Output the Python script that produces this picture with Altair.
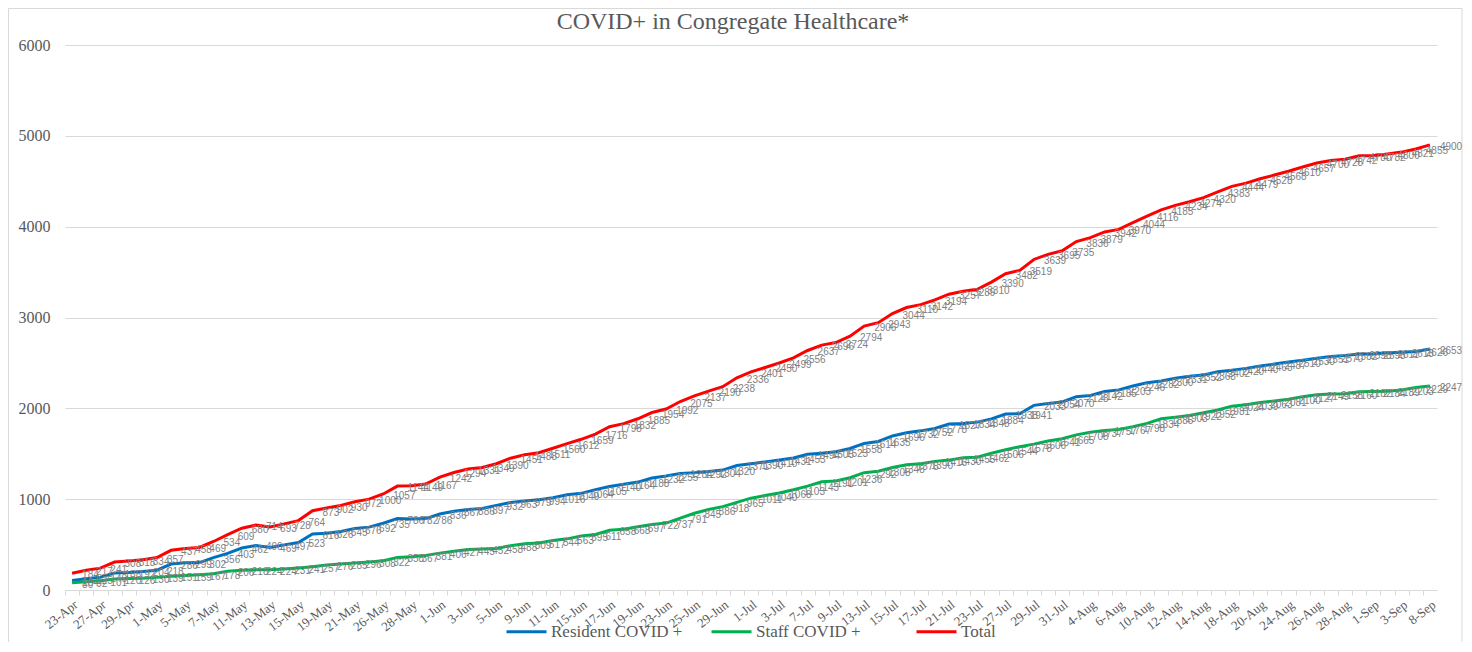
import altair as alt
import pandas as pd

dates = [
    "23-Apr", "24-Apr", "27-Apr", "28-Apr", "29-Apr", "30-Apr", "1-May", "4-May", "5-May", "6-May",
    "7-May", "8-May", "11-May", "12-May", "13-May", "14-May", "15-May", "18-May", "19-May", "20-May",
    "21-May", "22-May", "26-May", "27-May", "28-May", "29-May", "1-Jun", "2-Jun", "3-Jun", "4-Jun",
    "5-Jun", "8-Jun", "9-Jun", "10-Jun", "11-Jun", "12-Jun", "15-Jun", "16-Jun", "17-Jun", "18-Jun",
    "19-Jun", "22-Jun", "23-Jun", "24-Jun", "25-Jun", "26-Jun", "29-Jun", "30-Jun", "1-Jul", "2-Jul",
    "3-Jul", "6-Jul", "7-Jul", "8-Jul", "9-Jul", "10-Jul", "13-Jul", "14-Jul", "15-Jul", "16-Jul",
    "17-Jul", "20-Jul", "21-Jul", "22-Jul", "23-Jul", "24-Jul", "27-Jul", "28-Jul", "29-Jul", "30-Jul",
    "31-Jul", "3-Aug", "4-Aug", "5-Aug", "6-Aug", "7-Aug", "10-Aug", "11-Aug", "12-Aug", "13-Aug",
    "14-Aug", "17-Aug", "18-Aug", "19-Aug", "20-Aug", "21-Aug", "24-Aug", "25-Aug", "26-Aug", "27-Aug",
    "28-Aug", "31-Aug", "1-Sep", "2-Sep", "3-Sep", "4-Sep", "8-Sep",
]

tick_labels = [
    "23-Apr", "27-Apr", "29-Apr", "1-May", "5-May", "7-May", "11-May", "13-May", "15-May", "19-May",
    "21-May", "26-May", "28-May", "1-Jun", "3-Jun", "5-Jun", "9-Jun", "11-Jun", "15-Jun", "17-Jun",
    "19-Jun", "23-Jun", "25-Jun", "29-Jun", "1-Jul", "3-Jul", "7-Jul", "9-Jul", "13-Jul", "15-Jul",
    "17-Jul", "21-Jul", "23-Jul", "27-Jul", "29-Jul", "31-Jul", "4-Aug", "6-Aug", "10-Aug", "12-Aug",
    "14-Aug", "18-Aug", "20-Aug", "24-Aug", "26-Aug", "28-Aug", "1-Sep", "3-Sep", "8-Sep",
]

resident = [
    104, 125, 140, 188, 192, 204, 218, 286, 299, 302,
    356, 403, 462, 490, 469, 497, 523, 616, 626, 645,
    676, 692, 735, 786, 782, 786, 836, 867, 886, 897,
    932, 963, 979, 994, 1016, 1049, 1064, 1105, 1140, 1164,
    1188, 1232, 1255, 1284, 1292, 1304, 1320, 1371, 1390, 1410,
    1431, 1453, 1494, 1505, 1523, 1558, 1614, 1635, 1696, 1732,
    1752, 1778, 1827, 1834, 1848, 1884, 1938, 1941, 2033, 2054,
    2070, 2128, 2142, 2185, 2203, 2246, 2282, 2300, 2331, 2352,
    2368, 2402, 2420, 2440, 2465, 2487, 2510, 2530, 2551, 2570,
    2582, 2598, 2598, 2611, 2618, 2626, 2653,
]

staff = [
    80, 92, 101, 120, 126, 130, 139, 151, 159, 167,
    178, 206, 218, 224, 224, 231, 241, 257, 276, 285,
    296, 308, 322, 358, 367, 381, 406, 427, 445, 452,
    458, 488, 509, 517, 544, 563, 595, 611, 658, 668,
    697, 722, 737, 791, 845, 886, 918, 965, 1011, 1040,
    1068, 1103, 1143, 1191, 1201, 1236, 1292, 1308, 1348, 1378,
    1390, 1416, 1430, 1455, 1462, 1506, 1544, 1578, 1606, 1641,
    1665, 1708, 1737, 1757, 1767, 1798, 1834, 1885, 1903, 1922,
    1952, 1981, 2024, 2039, 2063, 2081, 2100, 2127, 2149, 2158,
    2160, 2182, 2184, 2189, 2203, 2229, 2247,
]

total = [
    184, 217, 241, 308, 318, 334, 357, 437, 458, 469,
    534, 609, 680, 714, 693, 728, 764, 873, 902, 930,
    972, 1000, 1057, 1144, 1149, 1167, 1242, 1294, 1331, 1349,
    1390, 1451, 1488, 1511, 1560, 1612, 1659, 1716, 1798, 1832,
    1885, 1954, 1992, 2075, 2137, 2190, 2238, 2336, 2401, 2450,
    2499, 2556, 2637, 2696, 2724, 2794, 2906, 2943, 3044, 3110,
    3142, 3194, 3257, 3289, 3310, 3390, 3482, 3519, 3639, 3695,
    3735, 3836, 3879, 3942, 3970, 4044, 4116, 4185, 4234, 4274,
    4320, 4383, 4444, 4479, 4528, 4568, 4610, 4657, 4700, 4728,
    4742, 4780, 4782, 4800, 4821, 4855, 4900,
]

series_names = ["Resident COVID +", "Staff COVID +", "Total"]
series_colors = ["#0070C0", "#00B050", "#FF0000"]
chart_title = ["COVID+ in Congregate Healthcare*"]

rows = []
for name, vals in zip(series_names, [resident, staff, total]):
    for d, v in zip(dates, vals):
        rows.append({"date": d, "series": name, "value": v})
df = pd.DataFrame(rows)

label_expr = ("indexof([" + ",".join("'" + t + "'" for t in tick_labels) +
              "], datum.value) >= 0 ? datum.label : ''")

serif = "Liberation Serif"
gray = "#595959"

x_enc = alt.X(
    "date:N",
    sort=dates,
    scale=alt.Scale(domain=dates, padding=0.5),
    axis=alt.Axis(
        title=None,
        labelAngle=-38,
        labelAlign="right",
        labelBaseline="top",
        labelExpr=label_expr,
        labelOverlap=False,
        labelFont=serif,
        labelFontSize=13,
        labelColor=gray,
        labelPadding=3,
        tickOffset=-7,
        labelOffset=7,
        tickSize=5,
        tickColor="#d9d9d9",
        domainColor="#d9d9d9",
        grid=False,
    ),
)

y_enc = alt.Y(
    "value:Q",
    scale=alt.Scale(domain=[0, 6000], nice=False),
    axis=alt.Axis(
        title=None,
        values=[0, 1000, 2000, 3000, 4000, 5000, 6000],
        format="d",
        labelFont=serif,
        labelFontSize=16,
        labelColor=gray,
        labelPadding=15,
        ticks=False,
        domain=False,
        gridColor="#d9d9d9",
        gridWidth=1,
    ),
)

color_enc = alt.Color(
    "series:N",
    sort=series_names,
    scale=alt.Scale(domain=series_names, range=series_colors),
    legend=alt.Legend(
        title=None,
        orient="none",
        legendX=440,
        legendY=565,
        direction="horizontal",
        columns=3,
        gridAlign="all",
        symbolType="stroke",
        symbolSize=1600,
        symbolStrokeWidth=3,
        labelFont=serif,
        labelFontSize=17,
        labelColor=gray,
        labelOffset=3,
        columnPadding=22,
    ),
)

base = alt.Chart(df)

frame = alt.Chart(pd.DataFrame({"k": [0]})).mark_rect(
    fill=None, stroke="#d9d9d9", strokeWidth=1
).encode(
    x=alt.value(-56.5), x2=alt.value(1397), y=alt.value(-36.5), y2=alt.value(640)
)

lines = base.mark_line(strokeWidth=3).encode(
    x=x_enc, y=y_enc, color=color_enc
)

labels = base.mark_text(
    align="left", baseline="middle", dx=10, dy=2,
    font="Liberation Sans", fontSize=10, color="#7f7f7f",
).encode(
    x=alt.X("date:N", sort=dates),
    y=alt.Y("value:Q"),
    text=alt.Text("value:Q"),
    detail="series:N",
)

title_text = alt.Chart(pd.DataFrame({"t": chart_title})).mark_text(
    font=serif, fontSize=24, color=gray, align="center", baseline="middle"
).encode(
    x=alt.value(668), y=alt.value(-23), text="t:N"
)

chart = alt.layer(frame, lines, labels, title_text).properties(
    width=1372,
    height=545,
    autosize=alt.AutoSizeParams(type="none"),
    padding={"left": 57, "top": 37, "right": 27, "bottom": 52},
).configure_view(stroke=None)

chart.save("out.html", embed_options={"renderer": "svg", "actions": False})
